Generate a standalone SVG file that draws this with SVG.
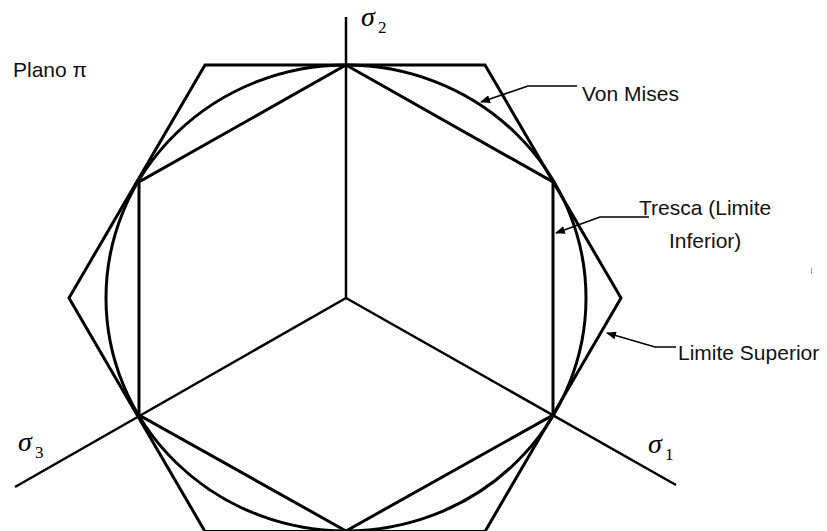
<svg xmlns="http://www.w3.org/2000/svg" width="827" height="531" viewBox="0 0 827 531">
<style>
.shape{fill:none;stroke:#000;stroke-width:3;stroke-linejoin:miter}
.axis{fill:none;stroke:#000;stroke-width:2.5}
.lead{fill:none;stroke:#000;stroke-width:1.6}
.lbl{font-family:"Liberation Sans",Arial,sans-serif;font-size:21px;fill:#111}
.sig{font-family:"Liberation Serif","Times New Roman",serif;font-style:italic;font-size:28px;fill:#000}
.sub{font-family:"Liberation Serif","Times New Roman",serif;font-size:17px;fill:#000}
</style>
<defs>
<marker id="ah" markerWidth="10" markerHeight="8" refX="9" refY="4" orient="auto" markerUnits="userSpaceOnUse">
<path d="M0,0 L10,4 L0,8 Z" fill="#000"/>
</marker>
</defs>
<rect width="827" height="531" fill="#fff"/>
<g id="axes">
<line class="axis" x1="346" y1="17" x2="346" y2="298"/>
<line class="axis" x1="346" y1="298" x2="15" y2="487"/>
<line class="axis" x1="346" y1="298" x2="676" y2="485"/>
</g>
<g id="limite-superior">
<polygon class="shape" points="205,65 485,65 621,298 485,531.5 205,531.5 69,298"/>
</g>
<g id="von-mises">
<ellipse class="shape" cx="346" cy="298" rx="240" ry="233"/>
</g>
<g id="tresca">
<polygon class="shape" points="346,65 553,182 553,415 346,531 139,415 139,182"/>
</g>
<g id="axis-labels">
<text class="sig" x="361" y="26">σ</text><text class="sub" x="378" y="33">2</text>
<text class="sig" x="18" y="451">σ</text><text class="sub" x="35" y="458">3</text>
<text class="sig" x="648" y="453">σ</text><text class="sub" x="665" y="460">1</text>
</g>
<g id="plano">
<text class="lbl" x="13" y="77">Plano π</text>
</g>
<g id="connectors">
<polyline class="lead" points="577,86 528,86 481,102" marker-end="url(#ah)"/>
<polyline class="lead" points="649,217 600,217 556,233" marker-end="url(#ah)"/>
<polyline class="lead" points="676,347 655,347 607,333" marker-end="url(#ah)"/>
</g>
<g id="label-von-mises">
<text class="lbl" x="582" y="101">Von Mises</text>
</g>
<g id="label-tresca">
<text class="lbl" x="639" y="215">Tresca (Limite</text>
<text class="lbl" x="669" y="248">Inferior)</text>
</g>
<g id="label-limite-superior">
<text class="lbl" x="678" y="360">Limite Superior</text>
</g>
<line x1="811.5" y1="268" x2="811.5" y2="274" stroke="#999" stroke-width="1"/>
</svg>
